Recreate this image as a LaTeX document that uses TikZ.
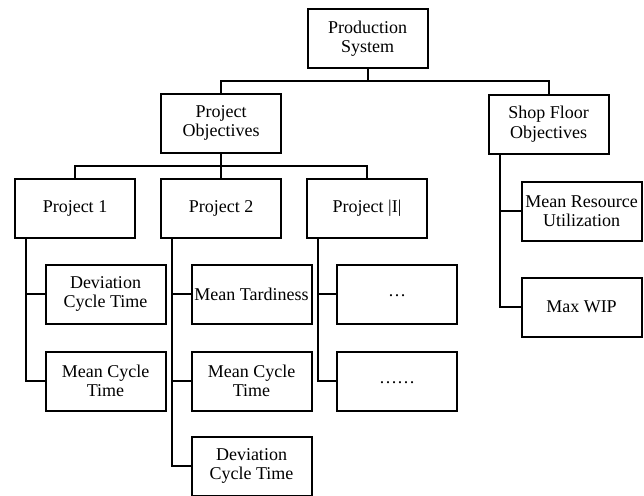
\documentclass[tikz,border=0pt]{standalone}
\usepackage{fontspec}
\setmainfont{Liberation Serif}
\begin{document}
\begin{tikzpicture}[x=1pt,y=-1pt,line width=2pt,
  obj/.style={draw, rectangle, minimum width=120pt, minimum height=59pt, inner sep=1pt, align=center, font=\fontsize{18}{19.5}\selectfont}]
\useasboundingbox (0,0) rectangle (644,495);
\node[obj] (prod) at (367.5,38.5){Production\\System};
\node[obj] (projobj) at (221,123){Project\\Objectives};
\node[obj] (shopobj) at (548.5,124){Shop Floor\\Objectives};
\draw[](prod.south) -- ++(0,12);
\draw[](projobj.north) -- ++(0,-12) -| (shopobj.north);
% projects
\node[obj] (proj1) at (75,208.5){Project 1};
\node[obj] (proj2) at (221,208.5){Project 2};
\node[obj] (projI) at (367,208.5){Project |I|};
\draw[](proj1.north) -- ++(0,-12) -| (projI.north);
\draw[](projobj.south) -- (proj2.north);
% project 1
\node[obj] (p1dev) at (105.5,294){Deviation\\Cycle Time};
\node[obj] (p1mean) at (105.5,381){Mean Cycle\\Time};
\draw[]([xshift=12pt]proj1.south west) |- (p1dev.west);
\draw[]([xshift=12pt]proj1.south west) |- (p1mean.west);
% project 2
\node[obj] (p2tard) at (251.5,294){Mean Tardiness};
\node[obj] (p2mean) at (251.5,381){Mean Cycle\\Time};
\node[obj] (p2dev) at (251.5,466){Deviation\\Cycle Time};
\draw[]([xshift=12pt]proj2.south west) |- (p2tard.west);
\draw[]([xshift=12pt]proj2.south west) |- (p2mean.west);
\draw[]([xshift=12pt]proj2.south west) |- (p2dev.west);
% project |I|
\node[obj] (pIa) at (397,294){\raisebox{-5pt}{\dots}};
\node[obj] (pIb) at (397,381){\raisebox{-5pt}{\dots\dots}};
\draw[]([xshift=12pt]projI.south west) |- (pIa.west);
\draw[]([xshift=12pt]projI.south west) |- (pIb.west);
% shop floor
\node[obj] (util) at (581.5,211){Mean Resource\\Utilization};
\node[obj] (wip) at (581.5,307){Max WIP};
\draw[]([xshift=12pt]shopobj.south west) |- (util.west);
\draw[]([xshift=12pt]shopobj.south west) |- (wip.west);
\end{tikzpicture}
\end{document}
